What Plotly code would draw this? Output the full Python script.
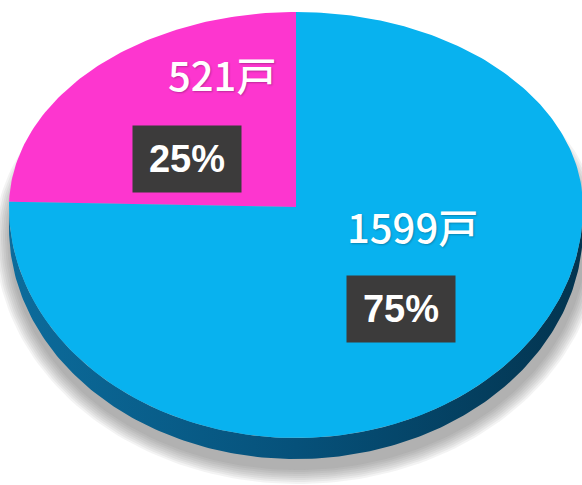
import numpy as np
import plotly.graph_objects as go

# ---- data ----
categories = ["A", "B"]
values = [521, 1599]
count_labels = ["521戸", "1599戸"]
slice_colors = ["#fd36cf", "#08b2ef"]

W, H = 582, 485
cx, cy = 296, 207
rx, ry_top, ry_bot = 287, 195, 231
depth = 21

total = sum(values)
fracs = [v / total for v in values]
pct_labels = [f"{round(f * 100)}%" for f in fracs]


def pt(theta_deg, ex=0.0, dy=0.0, ox=0.0):
    t = np.radians(theta_deg)
    s = np.sin(t)
    ry = np.where(s >= 0, ry_top, ry_bot) + ex
    return cx + ox + (rx + ex) * np.cos(t), cy + dy - ry * s


fig = go.Figure()

# soft shadow
for e in range(16, 0, -2):
    th = np.linspace(0, 360, 240)
    x, y = pt(th, ex=e, dy=depth + 9, ox=2)
    fig.add_trace(go.Scatter(x=x, y=y, mode="lines", fill="toself",
                             line=dict(width=0), fillcolor="rgba(90,90,90,0.07)",
                             hoverinfo="skip", showlegend=False))

# side band (visible lower half)
th = np.linspace(180, 360, 200)
x1, y1 = pt(th)
x2, y2 = pt(th[::-1], dy=depth)
fig.add_trace(go.Scatter(x=np.concatenate([x1, x2]), y=np.concatenate([y1, y2]),
                         mode="lines", fill="toself", line=dict(width=0),
                         fillgradient=dict(type="horizontal",
                                           colorscale=[[0, "#0c6c9c"], [0.5, "#06517a"], [1, "#03344f"]]),
                         hoverinfo="skip", showlegend=False))

# top face slices (pink starts at 12 o'clock going counter-clockwise)
start = 90.0
for i, f in enumerate(fracs):
    end = start + 360 * f
    th = np.linspace(start, end, max(int(360 * f), 4))
    x, y = pt(th)
    xs = np.concatenate([[cx], x, [cx]])
    ys = np.concatenate([[cy], y, [cy]])
    fig.add_trace(go.Scatter(x=xs, y=ys, mode="lines", fill="toself",
                             line=dict(width=0), fillcolor=slice_colors[i],
                             hoverinfo="skip", showlegend=False, name=categories[i]))
    start = end

# labels
label_pos = [((222, 74), (187, 159)), ((412, 226), (401, 309))]
for i in range(len(values)):
    (lx, ly), (bx, by) = label_pos[i]
    fig.add_annotation(x=lx, y=ly, text=count_labels[i], showarrow=False,
                       font=dict(family="Liberation Sans Narrow, Noto Sans CJK JP",
                                 size=40, weight=500, color="white",
                                 shadow="1px 1px 2px rgba(0,0,0,0.25)"))
    fig.add_annotation(x=bx, y=by, text=f"<b>{pct_labels[i]}</b>", showarrow=False,
                       font=dict(family="Liberation Sans, Arial", size=38, color="white"),
                       bgcolor="#3c3b3b", width=100, height=58, borderpad=4)

fig.update_layout(width=W, height=H, margin=dict(l=0, r=0, t=0, b=0),
                  paper_bgcolor="white", plot_bgcolor="white",
                  xaxis=dict(range=[0, W], visible=False, fixedrange=True),
                  yaxis=dict(range=[H, 0], visible=False, fixedrange=True))

fig.write_html("out.html", config={"displayModeBar": False},
               post_script="document.body.style.margin='0px';")
